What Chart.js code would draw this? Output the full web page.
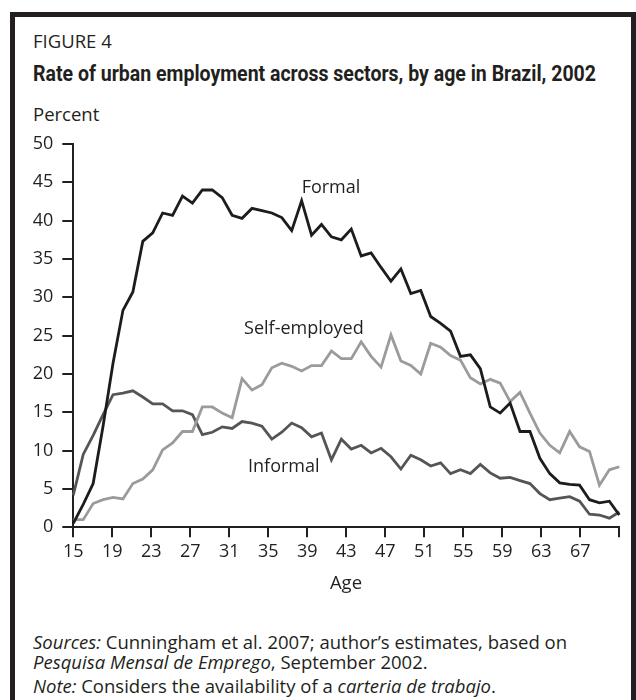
<!DOCTYPE html>
<html>
<head>
<meta charset="utf-8">
<script src="https://cdn.jsdelivr.net/npm/chart.js@4.4.1/dist/chart.umd.min.js"></script>
<style>
  html, body { margin: 0; padding: 0; background: #ffffff; }
  body { width: 636px; height: 700px; position: relative; overflow: hidden;
         font-family: "Open Sans", "Noto Sans", sans-serif; color: #231f20; }
  #frame { position: absolute; left: 10px; top: 12px; width: 626px; height: 760px;
           border: 5px solid #231f20; border-bottom: none; box-sizing: border-box; }
  .t { position: absolute; white-space: nowrap; line-height: 1; }
  #fig { left: 33px; top: 32px; font-size: 18.5px; }
  #title { left: 33px; top: 63px; font-family: "Liberation Sans Narrow", "Roboto", sans-serif;
           font-weight: bold; font-size: 22px; transform-origin: 0 0; }
  #pct { left: 33px; top: 105px; font-size: 18.5px; }
  #age { left: 246px; width: 200px; text-align: center; top: 573px; font-size: 18.5px; }
  #src1 { left: 33px; top: 633px; font-size: 18.5px; }
  #src2 { left: 33px; top: 653px; font-size: 18.5px; }
  #note { left: 33px; top: 677px; font-size: 18.5px; }
  #wrap { position: absolute; left: 0; top: 0; width: 636px; height: 600px; }
</style>
</head>
<body>
<div id="frame"></div>
<div class="t" id="fig">FIGURE 4</div>
<div class="t" id="title">Rate of urban employment across sectors, by age in Brazil, 2002</div>
<div class="t" id="pct">Percent</div>
<div id="wrap"><canvas id="c"></canvas></div>
<div class="t" id="age">Age</div>
<div class="t" id="src1"><i>Sources:</i> Cunningham et al. 2007; author’s estimates, based on</div>
<div class="t" id="src2"><i>Pesquisa Mensal de Emprego</i>, September 2002.</div>
<div class="t" id="note"><i>Note:</i> Considers the availability of a <i>carteria de trabajo</i>.</div>
<script>
const ages = [15,16,17,18,19,20,21,22,23,24,25,26,27,28,29,30,31,32,33,34,35,36,37,38,39,40,41,42,
              43,44,45,46,47,48,49,50,51,52,53,54,55,56,57,58,59,60,61,62,63,64,65,66,67,68,69,70];
const formal = [0.5,3.0,5.7,13.2,21.4,28.3,30.7,37.3,38.4,41.0,40.7,43.2,42.3,44.0,
                44.0,43.0,40.7,40.3,41.6,41.3,41.0,40.4,38.7,42.6,38.1,39.5,37.9,37.5,
                38.9,35.4,35.8,33.9,32.1,33.7,30.5,30.9,27.5,26.6,25.6,22.3,22.5,20.7,
                15.7,14.9,16.2,12.5,12.5,9.0,7.0,5.8,5.6,5.5,3.6,3.2,3.4,1.6];
const selfEmployed = [1.0,1.0,3.1,3.6,3.9,3.7,5.7,6.3,7.5,10.1,11.0,12.5,12.5,15.7,
                      15.7,14.9,14.3,19.4,17.9,18.6,20.8,21.4,21.0,20.4,21.1,21.1,23.0,22.0,
                      22.0,24.2,22.3,20.9,25.1,21.7,21.1,20.0,24.0,23.5,22.4,21.8,19.5,18.7,
                      19.3,18.8,16.4,17.6,14.9,12.3,10.7,9.7,12.5,10.5,9.9,5.5,7.5,7.9];
const informal = [4.2,9.5,12.0,14.7,17.3,17.5,17.8,17.0,16.1,16.1,15.2,15.2,14.7,12.1,
                  12.4,13.1,12.9,13.8,13.6,13.2,11.5,12.4,13.6,13.0,11.8,12.3,8.8,11.5,
                  10.2,10.7,9.7,10.3,9.2,7.6,9.4,8.8,8.0,8.4,7.0,7.5,7.0,8.2,
                  7.1,6.4,6.5,6.1,5.7,4.4,3.6,3.8,4.0,3.4,1.7,1.6,1.2,2.0];
const seriesNames = ['Formal', 'Self-employed', 'Informal'];
const xTickLabels = ['15','19','23','27','31','35','39','43','47','51','55','59','63','67'];
const yTickValues = [0,5,10,15,20,25,30,35,40,45,50];

const INK = '#231f20';
const FONT = '"Open Sans", "Noto Sans", sans-serif';

function makeSet(name, values, color, order) {
  return {
    label: name,
    data: ages.map((a, i) => ({ x: a, y: values[i] })),
    borderColor: color,
    borderWidth: 2.8,
    pointRadius: 0,
    fill: false,
    tension: 0,
    order: order,
    clip: false
  };
}

const seriesLabels = {
  id: 'seriesLabels',
  afterDatasetsDraw(chart, args, opts) {
    const { ctx, scales: { x, y } } = chart;
    ctx.save();
    ctx.font = '18px ' + FONT;
    ctx.fillStyle = INK;
    ctx.textAlign = 'left';
    ctx.textBaseline = 'alphabetic';
    opts.items.forEach(it => {
      ctx.fillText(it.text, x.getPixelForValue(it.age), y.getPixelForValue(it.value));
    });
    ctx.restore();
  }
};

new Chart(document.getElementById('c'), {
  type: 'line',
  data: {
    datasets: [
      makeSet(seriesNames[0], formal, '#1c1c1c', 1),
      makeSet(seriesNames[1], selfEmployed, '#9b9b9b', 2),
      makeSet(seriesNames[2], informal, '#555555', 3)
    ]
  },
  options: {
    responsive: true,
    maintainAspectRatio: false,
    animation: false,
    layout: { padding: { left: 0, top: 144, right: 16.7, bottom: 0 } },
    plugins: {
      legend: { display: false },
      tooltip: { enabled: false },
      seriesLabels: {
        items: [
          { text: seriesNames[0], age: 38, value: 43.6 },
          { text: seriesNames[1], age: 32.2, value: 25.2 },
          { text: seriesNames[2], age: 32.6, value: 7.2 }
        ]
      }
    },
    scales: {
      x: {
        type: 'linear',
        min: ages[0],
        max: ages[ages.length - 1],
        afterBuildTicks: axis => {
          const step = 4 * (axis.max - axis.min) / ages.length;
          const t = xTickLabels.map((l, k) => ({ value: axis.min + k * step }));
          t.push({ value: axis.max });
          axis.ticks = t;
        },
        ticks: {
          autoSkip: false, maxRotation: 0, minRotation: 0, padding: 4,
          color: INK, font: { family: FONT, size: 18 },
          callback: (v, i) => (i < xTickLabels.length ? xTickLabels[i] : '')
        },
        grid: { display: true, drawOnChartArea: false, drawTicks: true, tickLength: 10,
                color: INK, lineWidth: 2 },
        border: { display: true, color: INK, width: 2 },
        afterFit: s => { s.height = 72.7; }
      },
      y: {
        type: 'linear',
        min: 0,
        max: 50,
        afterBuildTicks: axis => { axis.ticks = yTickValues.map(v => ({ value: v })); },
        ticks: {
          padding: 9, color: INK, font: { family: FONT, size: 18 },
          callback: v => String(v)
        },
        grid: { display: true, drawOnChartArea: false, drawTicks: true, tickLength: 11,
                color: INK, lineWidth: 2 },
        border: { display: true, color: INK, width: 2 },
        afterFit: s => { s.width = 73.3; }
      }
    }
  },
  plugins: [seriesLabels]
});

const title = document.getElementById('title');
const tw = title.getBoundingClientRect().width;
title.style.transform = 'scaleX(' + (563 / tw) + ')';
</script>
</body>
</html>
